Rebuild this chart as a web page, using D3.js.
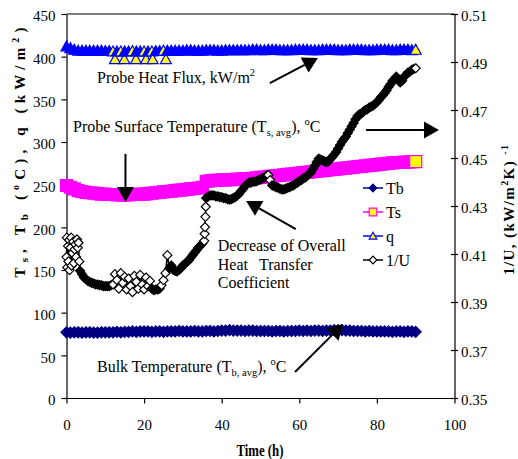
<!DOCTYPE html>
<html>
<head>
<meta charset="utf-8">
<script src="https://cdn.jsdelivr.net/npm/d3@7"></script>
<style>
body { margin: 0; background: #fff; }
svg { display: block; font-family: "Liberation Serif", "Times New Roman", serif; }
.axis text { font-size: 15px; fill: #000; font-family: "Liberation Serif", "Times New Roman", serif; }
.axis path, .axis line { stroke: #000; stroke-width: 1.2; }
.note { font-size: 16px; fill: #000; }
</style>
</head>
<body>
<svg id="chart" width="518" height="459"></svg>
<script>
// hours for Tb and Ts
var hours = [0,1,2,3,4,5,6,7,8,9,10,11,12,13,14,15,16,17,18,19,20,21,22,23,24,25,26,27,28,29,
  30,31,32,33,34,35,36,37,38,39,40,41,42,43,44,45,46,47,48,49,50,51,52,53,54,55,56,57,58,59,
  60,61,62,63,64,65,66,67,68,69,70,71,72,73,74,75,76,77,78,79,80,81,82,83,84,85,86,87,88,89,90];

var tbVal = [77,76.5,77,77,76.5,77,77,76.5,76.5,77,
  77,77,77,77.5,77,77.5,77.5,78,77.5,78,
  78,78,77.5,78,78,77.5,78,78,78,78.5,
  78,78,78,78.5,78,78,78.5,78.5,78,78.5,
  79,79,79.5,79,79,79,78.5,79,79,78.5,
  78.5,78.5,78.5,78,78.5,78.5,78,78.5,78.5,78.5,
  79,78.5,79,78.5,79,79,78.5,79,79,79.5,
  79.5,79.5,79,79,78.5,78.5,78.5,78,78.5,78,
  78,78,78,78,77.5,78,78,77.5,78,78,77.5];

var tsVal = [249,247,245,243,242,241,240.5,240,239.5,239,
  239,238.5,238.5,238,238,238,238,238.5,238.5,239,
  239,239.5,240,240.5,241,241.5,242,242.5,243,243.5,
  244,244.5,245,245.5,246,247,254,254.5,255,255,
  255.5,255.5,256,256,256.5,256.5,257,257,257.5,258,
  258.5,259,259.5,260,260.5,261,261.5,262,262.5,263,
  263.5,264,264.5,265,265.5,266,266.5,267,267.5,268,
  268.5,269,269.5,270,270.5,271,271.5,272,272.5,273,
  273.5,274,274.5,275,275.5,276,276,276.5,276.5,277,277];

var qTime = [0,1,2,3,4,5,6,7,8,9,10,11,12,12.5,13,14,14.9,15,16,17,17.9,18,19,20,20.5,21,22,22.2,23,24,25,25.6,26,
  27,28,29,30,31,32,33,34,35,36,37,38,39,40,41,42,43,44,45,46,47,48,49,50,51,52,53,54,55,56,57,58,59,
  60,61,62,63,64,65,66,67,68,69,70,71,72,73,74,75,76,77,78,79,80,81,82,83,84,85,86,87,88,89,90];
var qVal = [412,410,408,407,407,407,407,407,407,407,406.5,406.5,406,397,406,406,397,406,406,406.5,397,406,406,406,397,406,406,397,406.5,406.5,407,397,407,
  407,407,407,407,407.5,407.5,407,407,407,407.5,
  407.5,407.5,407,407,407.5,407.5,407.5,407.5,407.5,407.5,
  407.5,408,408,407.5,407.5,408,408,408,407.5,407.5,
  407.5,407.5,408,408,408,408,407.5,407.5,407.5,408,
  408,408,408,407.5,407.5,407.5,408,408,408,408,
  407.5,407.5,407.5,408,408,408,408,407.5,407.5,408,
  408,408,407.5,408];

// 1/U on the right axis
var uTime = [0,0.1,0.2,0.4,0.5,0.7,0.8,1,1.2,1.3,1.5,1.7,1.9,2.1,2.3,2.5,2.7,2.9,3.1,3.3,3.5,
  4,4.5,5,5.5,6,6.5,7,7.5,8,8.5,9,9.5,10,10.5,11,11.5,12,12.5,13,13.5,14,14.5,15,15.5,16,16.5,
  17,17.5,18,18.5,19,19.5,20,20.5,21,21.5,22,22.5,23,23.5,24,24.5,25,25.5,26,26.5,27,27.5,28,28.5,
  29,29.5,30,30.5,31,31.5,32,32.5,33,33.5,34,34.5,35,35.5,35.6,35.7,35.8,35.9,36,36.5,37,37.5,
  38,38.5,39,39.5,40,40.5,41,41.5,42,42.5,43,43.5,44,44.5,45,45.5,46,46.5,47,47.5,48,48.5,49,49.5,
  50,50.5,51,51.5,52,52.5,53,53.5,54,54.5,55,55.5,56,56.5,57,57.5,58,58.5,59,59.5,60,60.5,61,61.5,
  62,62.5,63,63.5,64,64.5,65,65.5,66,66.5,67,67.5,68,68.5,69,69.5,70,70.5,71,71.5,72,72.5,73,73.5,
  74,74.5,75,75.5,76,76.5,77,77.5,78,78.5,79,79.5,80,80.5,81,81.5,82,82.5,83,83.5,84,84.5,85,85.5,
  86,86.5,87,87.5,88,88.5,89,89.5,90];
var uVal = [0.4087,0.4168,0.4044,0.4133,0.4069,0.4158,0.4033,0.4126,0.4168,0.4051,0.4104,0.4151,0.4062,0.4119,0.4140,0.4087,0.4161,0.4126,0.4147,0.4069,0.4030,
  0.4016,0.4002,0.3995,0.3988,0.3984,0.3980,0.3977,0.3973,0.3973,0.3970,0.3970,0.3966,0.3966,0.3966,0.3966,0.3970,0.3973,0.4016,0.3991,0.3956,0.4020,0.3980,0.4005,0.3952,0.3998,0.3966,
  0.3941,0.4009,0.3984,0.3956,0.4013,0.3973,0.3952,0.4002,0.3966,0.3988,0.3956,0.3949,0.3952,0.3952,0.3956,0.3970,0.3991,0.4020,0.4095,0.4041,0.4052,0.4034,0.4030,0.4027,
  0.4034,0.4041,0.4052,0.4059,0.4066,0.4073,0.4084,0.4095,0.4105,0.4116,0.4127,0.4134,0.4144,0.4155,0.4184,0.4212,0.4255,0.4297,0.4333,0.4340,0.4344,0.4344,
  0.4344,0.4340,0.4340,0.4337,0.4337,0.4333,0.4333,0.4329,0.4326,0.4329,0.4333,0.4337,0.4344,0.4351,0.4362,0.4372,0.4383,0.4390,0.4397,0.4397,0.4401,0.4401,0.4404,0.4408,
  0.4411,0.4415,0.4418,0.4426,0.4429,0.4408,0.4386,0.4383,0.4379,0.4376,0.4372,0.4369,0.4369,0.4372,0.4376,0.4379,0.4383,0.4386,0.4393,0.4397,0.4404,0.4408,0.4415,0.4418,
  0.4426,0.4433,0.4440,0.4454,0.4468,0.4483,0.4497,0.4493,0.4490,0.4486,0.4483,0.4486,0.4497,0.4504,0.4515,0.4525,0.4540,0.4554,0.4568,0.4579,0.4589,0.4604,0.4618,0.4632,
  0.4646,0.4661,0.4675,0.4682,0.4685,0.4693,0.4700,0.4703,0.4710,0.4714,0.4718,0.4725,0.4732,0.4742,0.4753,0.4760,0.4771,0.4782,0.4796,0.4807,0.4821,0.4828,0.4839,0.4830,
  0.4815,0.4822,0.4839,0.4846,0.4856,0.4860,0.4867,0.4871,0.4874];

var leftTicks = [0,50,100,150,200,250,300,350,400,450];
var rightTicks = [0.35,0.37,0.39,0.41,0.43,0.45,0.47,0.49,0.51];
var timeTicks = [0,20,40,60,80,100];
var legendNames = ["Tb","Ts","q","1/U"];

var svg = d3.select("#chart");

var x = d3.scaleLinear().domain([0, 100]).range([66.5, 454.5]);
var yL = d3.scaleLinear().domain([0, 450]).range([398, 14]);
var yR = d3.scaleLinear().domain([0.35, 0.51]).range([398, 14]);

// frame top
svg.append("line")
  .attr("x1", x(0)).attr("x2", x(100))
  .attr("y1", yL(450)).attr("y2", yL(450))
  .attr("stroke", "#000").attr("stroke-width", 1.2);

svg.append("g").attr("class", "axis")
  .attr("transform", "translate(" + x(0) + ",0)")
  .call(d3.axisLeft(yL).tickValues(leftTicks).tickSize(5).tickSizeOuter(0).tickPadding(6))
  .selectAll("text").attr("dy", "0.45em");

var ra = svg.append("g").attr("class", "axis")
  .attr("transform", "translate(" + x(100) + ",0)")
  .call(d3.axisRight(yR).tickValues(rightTicks).tickFormat(d3.format(".2f")).tickSize(3.5).tickSizeOuter(0).tickPadding(3));
ra.selectAll(".tick line").attr("x1", -3.5);
ra.selectAll("text").attr("dy", "0.4em");

svg.append("g").attr("class", "axis")
  .attr("transform", "translate(0," + yL(0) + ")")
  .call(d3.axisBottom(x).tickValues(timeTicks).tickSize(5.5).tickSizeOuter(0).tickPadding(16));

// marker shapes
var shapes = {
  diamond: function(r){ return "M0," + (-r) + "L" + r + ",0L0," + r + "L" + (-r) + ",0Z"; },
  square: function(r){ return "M" + (-r) + "," + (-r) + "H" + r + "V" + r + "H" + (-r) + "Z"; },
  triangle: function(r){ return "M0," + (-r) + "L" + r + "," + (r*0.8) + "L" + (-r) + "," + (r*0.8) + "Z"; }
};

// dense logger data: a marker only shows its fill where the next one doesn't sit on top of it
function drawSeries(ts, vs, y, color, fill, shape, r, gap){
  var pts = ts.map(function(t, i){ return [x(t), y(vs[i])]; });
  svg.append("path").datum(pts)
    .attr("fill", "none").attr("stroke", color).attr("stroke-width", 1.5)
    .attr("d", d3.line());
  var last = pts.length - 1;
  svg.append("g").selectAll("path").data(pts).enter().append("path")
    .attr("transform", function(d){ return "translate(" + d[0] + "," + d[1] + ")"; })
    .attr("d", shapes[shape](r))
    .attr("stroke", color).attr("stroke-width", 1.2)
    .attr("fill", function(d, i){
      if (!gap || i === last) return fill;
      var n = pts[i + 1];
      return Math.hypot(n[0] - d[0], n[1] - d[1]) > gap ? fill : color;
    });
}

drawSeries(hours, tbVal, yL, "#000080", "#000080", "diamond", 5.5, 0);
drawSeries(hours, tsVal, yL, "#FF00FF", "#FFFF00", "square", 6, 8);
drawSeries(qTime, qVal, yL, "#0000FF", "#FFFF00", "triangle", 5.5, 6);
drawSeries(uTime, uVal, yR, "#000", "#fff", "diamond", 4.5, 5);

// annotations
function arrow(t1, v1, t2, v2){
  var x1 = x(t1), y1 = yL(v1), x2 = x(t2), y2 = yL(v2);
  var a = Math.atan2(y2 - y1, x2 - x1), L = 15, W = 8.5;
  var bx = x2 - L * Math.cos(a), by = y2 - L * Math.sin(a);
  svg.append("line").attr("x1", x1).attr("y1", y1).attr("x2", bx).attr("y2", by)
    .attr("stroke", "#000").attr("stroke-width", 2);
  svg.append("path")
    .attr("d", "M" + x2 + "," + y2 + "L" + (bx - W*Math.sin(a)) + "," + (by + W*Math.cos(a)) +
      "L" + (bx + W*Math.sin(a)) + "," + (by - W*Math.cos(a)) + "Z")
    .attr("fill", "#000");
}
arrow(52.4, 369, 64.8, 398.4);
arrow(15.2, 286, 15.2, 229.7);
arrow(77.2, 314, 96, 314);
arrow(59.1, 198, 46.3, 230.9);
arrow(58.9, 30.5, 71.3, 86.7);

var t1 = svg.append("text").attr("class", "note").attr("x", x(7.86)).attr("y", yL(369));
t1.append("tspan").text("Probe Heat Flux, kW/m");
t1.append("tspan").attr("font-size", "10.5px").attr("dy", -7).text("2");

var t2 = svg.append("text").attr("class", "note").attr("x", x(1.68)).attr("y", yL(311.7));
t2.append("tspan").text("Probe Surface Temperature (T");
t2.append("tspan").attr("font-size", "10.5px").attr("dy", 4).text("s, avg");
t2.append("tspan").attr("dy", -4).text("), ");
t2.append("tspan").attr("font-size", "10.5px").attr("dy", -7).text("o");
t2.append("tspan").attr("dy", 7).text("C");

var t3 = svg.append("text").attr("class", "note").attr("x", x(39)).attr("y", yL(172.6));
t3.append("tspan").attr("x", x(39)).text("Decrease of Overall");
t3.append("tspan").attr("x", x(39)).attr("dy", 18.8).text("Heat");
t3.append("tspan").attr("x", x(49.6)).text("Transfer");
t3.append("tspan").attr("x", x(39)).attr("dy", 18.8).text("Coefficient");

var t4 = svg.append("text").attr("class", "note").attr("x", x(7.86)).attr("y", yL(30.5));
t4.append("tspan").text("Bulk Temperature (T");
t4.append("tspan").attr("font-size", "10.5px").attr("dy", 4).text("b, avg");
t4.append("tspan").attr("dy", -4).text("), ");
t4.append("tspan").attr("font-size", "10.5px").attr("dy", -7).text("o");
t4.append("tspan").attr("dy", 7).text("C");

// axis titles
svg.append("text")
  .attr("x", 260).attr("y", 456)
  .attr("text-anchor", "middle")
  .attr("font-weight", "bold").attr("font-size", "17px")
  .attr("textLength", 47).attr("lengthAdjust", "spacingAndGlyphs")
  .text("Time (h)");

var lt = svg.append("text")
  .attr("transform", "translate(25,152.5) rotate(-90)")
  .attr("text-anchor", "middle")
  .attr("font-weight", "bold").attr("font-size", "15px")
  .attr("textLength", 250).attr("lengthAdjust", "spacing");
lt.append("tspan").text("T");
lt.append("tspan").attr("font-size", "11px").attr("dy", 3).text("s");
lt.append("tspan").attr("dy", -3).text(", T");
lt.append("tspan").attr("font-size", "11px").attr("dy", 3).text("b");
lt.append("tspan").attr("dy", -3).text(" (");
lt.append("tspan").attr("font-size", "10px").attr("dy", -6).text("o");
lt.append("tspan").attr("dy", 6).text("C), q (kW/m");
lt.append("tspan").attr("font-size", "10px").attr("dy", -6).text("2");
lt.append("tspan").attr("dy", 6).text(")");

var rt = svg.append("text")
  .attr("transform", "translate(514,210) rotate(-90)")
  .attr("text-anchor", "middle")
  .attr("font-weight", "bold").attr("font-size", "15px")
  .attr("textLength", 130).attr("lengthAdjust", "spacing");
rt.append("tspan").text("1/U, (kW/m");
rt.append("tspan").attr("font-size", "10px").attr("dy", -6).text("2");
rt.append("tspan").attr("dy", 6).text("K) ");
rt.append("tspan").attr("font-size", "10px").attr("dy", -6).text("-1");

// legend
var legColors = ["#000080", "#FF00FF", "#0000FF", "#000"];
var legFills = ["#000080", "#FFFF00", "#FFFF00", "#fff"];
var legShapes = ["diamond", "square", "triangle", "diamond"];
var leg = svg.append("g").attr("transform", "translate(363,188)");
legendNames.forEach(function(name, i){
  var g = leg.append("g").attr("transform", "translate(0," + (i * 24) + ")");
  g.append("line").attr("x1", 0).attr("x2", 20).attr("stroke", legColors[i]).attr("stroke-width", 1.5);
  g.append("path").attr("transform", "translate(10,0)").attr("d", shapes[legShapes[i]](3.8))
    .attr("fill", legFills[i]).attr("stroke", legColors[i]).attr("stroke-width", 1.2);
  g.append("text").attr("x", 23).attr("y", 5.5).attr("font-size", "16px").text(name);
});
</script>
</body>
</html>
